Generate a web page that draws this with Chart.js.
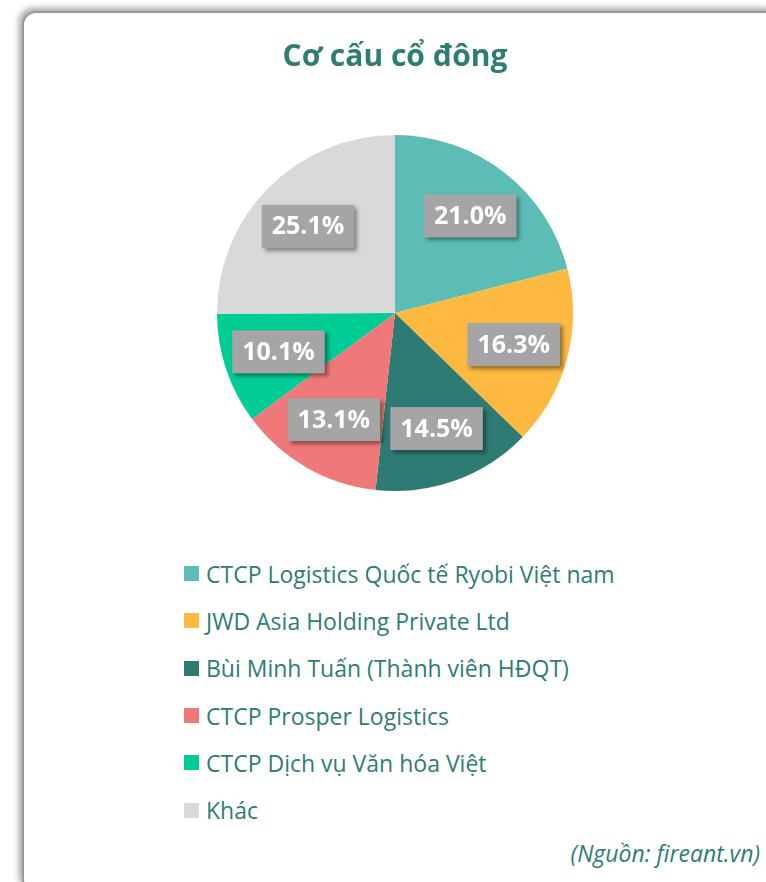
<!DOCTYPE html>
<html>
<head>
<meta charset="utf-8">
<script src="https://cdn.jsdelivr.net/npm/chart.js@4.4.1/dist/chart.umd.min.js"></script>
<style>
    body { margin: 0; background: #fff; width: 766px; height: 882px; overflow: hidden; position: relative; font-family: "Open Sans", "Noto Sans", sans-serif; }
    .card {
        position: absolute; left: 22px; top: 11px; width: 760px; height: 880px;
        background: #fff; border-radius: 14px;
        border-left: 2px solid #9a9a9a; border-top: 2px solid #9a9a9a;
        box-shadow: -3px -3px 6px rgba(0,0,0,0.35);
    }
    .chart-box { position: absolute; left: 0; top: 0; width: 766px; height: 500px; }
    #legend { position: absolute; left: 184px; top: 550px; margin: 0; padding: 0; list-style: none; }
    #legend li { height: 47.3px; display: flex; align-items: center; font-size: 23px; color: #2e7d73; white-space: nowrap; }
    #legend span { display: inline-block; width: 15px; height: 15px; margin-right: 7px; }
    .source { position: absolute; right: 6px; top: 837px; font-size: 23px; font-style: italic; color: #2e7d73; }
</style>
</head>
<body>
<div class="card"></div>
<div class="chart-box"><canvas id="pieChart"></canvas></div>
<ul id="legend"></ul>
<div class="source">(Nguồn: fireant.vn)</div>

<script>
// shareholders and their stakes (%)
const shareholders = ['CTCP Logistics Quốc tế Ryobi Việt nam', 'JWD Asia Holding Private Ltd', 'Bùi Minh Tuấn (Thành viên HĐQT)', 'CTCP Prosper Logistics', 'CTCP Dịch vụ Văn hóa Việt', 'Khác'];
const stakes = [21.0, 16.3, 14.5, 13.1, 10.1, 25.1];
const sliceColors = ['#5bbdb5', '#fdb940', '#2e7b74', '#f07878', '#00cc96', '#d9d9d9'];

// draws the gray value boxes on each slice
const valueBoxes = {
    id: 'valueBoxes',
    afterDatasetsDraw(chart) {
        const ctx = chart.ctx;
        const meta = chart.getDatasetMeta(0);
        ctx.save();
        ctx.font = 'bold 25px "Open Sans", sans-serif';
        ctx.textAlign = 'center';
        ctx.textBaseline = 'middle';
        meta.data.forEach((arc, i) => {
            const mid = (arc.startAngle + arc.endAngle) / 2;
            const x = arc.x + Math.cos(mid) * arc.outerRadius * 0.69;
            const y = arc.y + Math.sin(mid) * arc.outerRadius * 0.69;
            const text = stakes[i].toFixed(1) + '%';
            const w = ctx.measureText(text).width + 20;
            const h = 43;
            ctx.shadowColor = 'rgba(0,0,0,0.4)';
            ctx.shadowBlur = 4;
            ctx.shadowOffsetX = 3;
            ctx.shadowOffsetY = 3;
            ctx.fillStyle = '#a5a5a5';
            ctx.fillRect(x - w / 2, y - h / 2, w, h);
            ctx.shadowColor = 'transparent';
            ctx.fillStyle = '#fff';
            ctx.fillText(text, x, y + 1);
        });
        ctx.restore();
    }
};

const pieChart = new Chart(document.getElementById('pieChart'), {
    type: 'pie',
    data: {
        labels: shareholders,
        datasets: [{
            data: stakes,
            backgroundColor: sliceColors,
            borderWidth: 0
        }]
    },
    options: {
        responsive: true,
        maintainAspectRatio: false,
        animation: false,
        layout: { padding: { left: 24, bottom: 9 } },
        plugins: {
            legend: { display: false },
            tooltip: { enabled: false },
            title: {
                display: true,
                text: 'Cơ cấu cổ đông',
                color: '#2e7d73',
                font: { size: 30, weight: 'bold', family: '"Open Sans", sans-serif' },
                padding: { top: 39, bottom: 60 }
            }
        }
    },
    plugins: [valueBoxes]
});

// legend list built from the same arrays
const legend = document.getElementById('legend');
shareholders.forEach((name, i) => {
    const li = document.createElement('li');
    li.innerHTML = '<span style="background:' + sliceColors[i] + '"></span>' + name;
    legend.appendChild(li);
});
</script>
</body>
</html>
